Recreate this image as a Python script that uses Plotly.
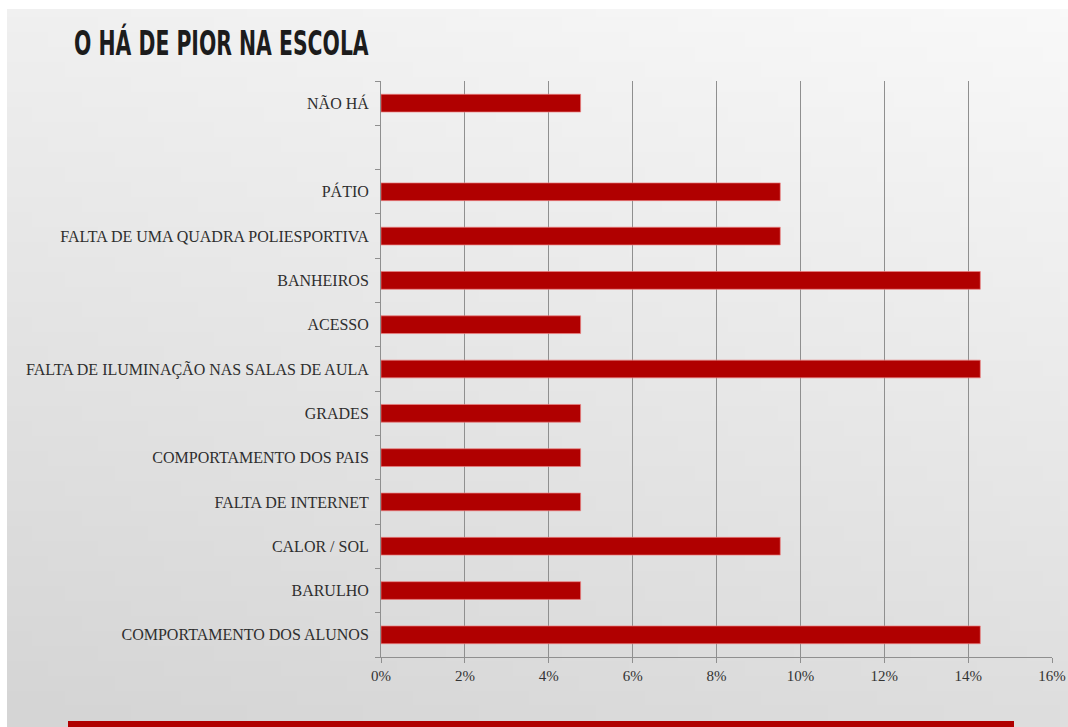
import base64
import struct
import zlib

import plotly.graph_objects as go

# Survey answers (bottom to top); the blank entry leaves an empty row
categories = [
    "COMPORTAMENTO DOS ALUNOS",
    "BARULHO",
    "CALOR / SOL",
    "FALTA DE INTERNET",
    "COMPORTAMENTO DOS PAIS",
    "GRADES",
    "FALTA DE ILUMINAÇÃO NAS SALAS DE AULA",
    "ACESSO",
    "BANHEIROS",
    "FALTA DE UMA QUADRA POLIESPORTIVA",
    "PÁTIO",
    " ",
    "NÃO HÁ",
]
shares = [
    0.1429, 0.0476, 0.0952, 0.0476, 0.0476, 0.0476,
    0.1429, 0.0476, 0.1429, 0.0952, 0.0952, None, 0.0476,
]
x_ticks = [0, 0.02, 0.04, 0.06, 0.08, 0.10, 0.12, 0.14, 0.16]
title_text = "O HÁ DE PIOR NA ESCOLA"

W, H = 1068, 727
ML, MR, MT, MB = 381, 16, 81, 70
PW, PH = W - ML - MR, H - MT - MB
BG_LEFT, BG_TOP = 7, 9  # thin white border around the grey backdrop


def px_x(px):
    return (px - ML) / PW


def px_y(py):
    return (H - MB - py) / PH


def gradient_png(w=64, h=48):
    """Soft grey paper background, lighter towards the top right."""
    rows = b""
    for j in range(h):
        row = b"\x00"
        for i in range(w):
            t = 0.75 * (j / (h - 1)) + 0.25 * (1 - i / (w - 1))
            v = int(249 - 36 * t)
            row += bytes((v, v, v))
        rows += row

    def chunk(tag, data):
        c = struct.pack(">I", len(data)) + tag + data
        return c + struct.pack(">I", zlib.crc32(tag + data) & 0xFFFFFFFF)

    png = b"\x89PNG\r\n\x1a\n"
    png += chunk(b"IHDR", struct.pack(">IIBBBBB", w, h, 8, 2, 0, 0, 0))
    png += chunk(b"IDAT", zlib.compress(rows, 9))
    png += chunk(b"IEND", b"")
    return "data:image/png;base64," + base64.b64encode(png).decode()


serif = "Liberation Serif, Times New Roman, serif"

fig = go.Figure(
    go.Bar(
        x=shares,
        y=categories,
        orientation="h",
        marker=dict(color="#B00000", line=dict(color="rgba(235,130,130,0.7)", width=1)),
        width=0.4,
        hoverinfo="x+y",
    )
)

fig.update_layout(
    width=W,
    height=H,
    autosize=False,
    margin=dict(l=ML, r=MR, t=MT, b=MB, pad=0, autoexpand=False),
    paper_bgcolor="#ffffff",
    plot_bgcolor="rgba(0,0,0,0)",
    showlegend=False,
    images=[
        dict(
            source=gradient_png(),
            xref="paper", yref="paper",
            x=px_x(BG_LEFT), y=px_y(BG_TOP),
            sizex=(W - BG_LEFT) / PW, sizey=(H - BG_TOP) / PH,
            xanchor="left", yanchor="top",
            sizing="stretch", layer="below",
        )
    ],
    xaxis=dict(
        range=[0, 0.16],
        tickvals=x_ticks,
        tickformat=".0%",
        automargin=False,
        showgrid=True,
        gridcolor="#8f8f8f",
        gridwidth=1,
        zeroline=False,
        showline=True,
        linecolor="#8f8f8f",
        linewidth=1,
        ticks="outside",
        ticklen=5,
        tickcolor="#8f8f8f",
        tickfont=dict(family=serif, size=15, color="#333333"),
        fixedrange=True,
    ),
    yaxis=dict(
        categoryorder="array",
        categoryarray=categories,
        range=[-0.5, len(categories) - 0.5],
        automargin=False,
        showgrid=False,
        showline=True,
        linecolor="#8f8f8f",
        linewidth=1,
        ticks="outside",
        tickson="boundaries",
        ticklen=5,
        tickcolor="#8f8f8f",
        ticklabelstandoff=8,
        tickfont=dict(family=serif, size=16, color="#2e2e2e"),
        fixedrange=True,
    ),
    annotations=[
        dict(
            text=f"<b>{title_text}</b>",
            xref="paper", yref="paper",
            x=px_x(72), y=px_y(43),
            xanchor="left", yanchor="middle",
            showarrow=False,
            font=dict(family="DejaVu Sans, sans-serif", size=34, color="#1c1c1c"),
        )
    ],
    shapes=[
        dict(
            type="rect", xref="paper", yref="paper",
            x0=px_x(68), x1=px_x(1014), y0=px_y(727), y1=px_y(721),
            fillcolor="#B00000", line=dict(width=0), layer="above",
        )
    ],
)

# Condense the heading horizontally (poster-style narrow type) and keep the page scroll-free
post = """
document.documentElement.style.overflow = 'hidden';
document.body.style.margin = '0';
document.body.style.overflow = 'hidden';
var t = document.querySelector('.annotation-text');
if (t) {
  var bb = t.getBBox();
  t.setAttribute('transform',
    'translate(' + bb.x + ',0) scale(0.6,1) translate(' + (-bb.x) + ',0)');
}
"""

fig.write_html("out.html", config={"responsive": False}, post_script=post)
